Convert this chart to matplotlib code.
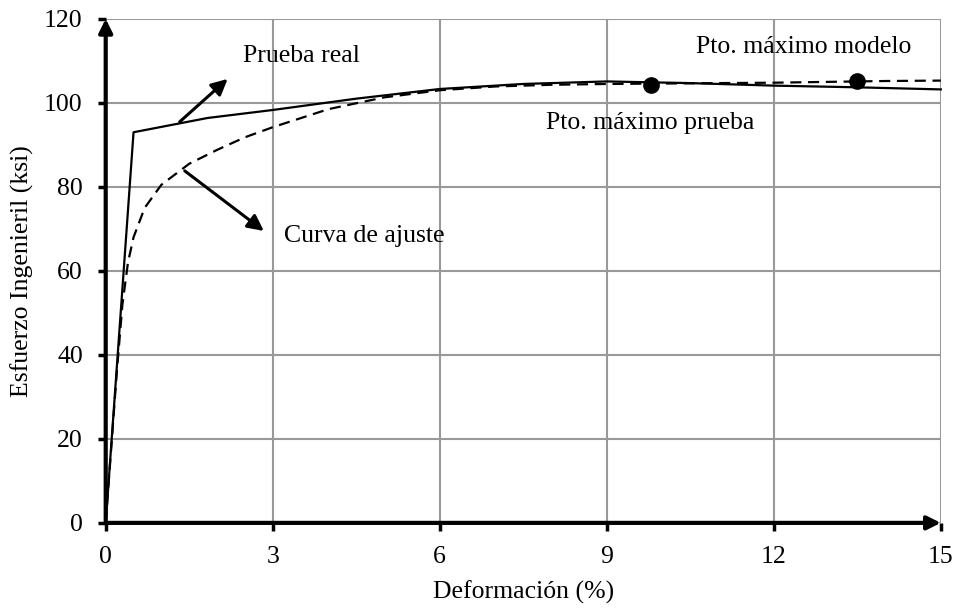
import matplotlib
matplotlib.use("Agg")
import matplotlib.pyplot as plt

plt.rcParams['font.family'] = ['Liberation Serif', 'DejaVu Serif']

# Curva de la prueba real (deformación %, esfuerzo ksi)
prueba_x = [0.0, 0.5, 1.83, 3.0, 4.5, 6.0, 7.5, 9.0, 10.5, 12.0, 13.5, 15.0]
prueba_y = [0.0, 93.0, 96.4, 98.3, 101.0, 103.3, 104.5, 105.1, 104.7, 104.1, 103.7, 103.2]

# Curva de ajuste del modelo
ajuste_x = [0.0, 0.1, 0.2, 0.3, 0.4, 0.5, 0.7, 1.0, 1.5, 2.0, 2.5, 3.0, 4.0,
            5.0, 6.0, 7.0, 8.0, 9.0, 10.0, 11.0, 12.0, 13.0, 14.0, 15.0]
ajuste_y = [0.0, 18.0, 36.0, 52.0, 62.0, 68.0, 75.0, 80.5, 85.5, 88.8, 91.8, 94.2, 98.5,
            101.3, 103.0, 103.9, 104.3, 104.5, 104.6, 104.7, 104.8, 105.0, 105.2, 105.3]

# Puntos máximos
max_prueba = (9.8, 104.3)
max_modelo = (13.5, 105.3)

xticks = [0, 3, 6, 9, 12, 15]
yticks = [0, 20, 40, 60, 80, 100, 120]

fig = plt.figure(figsize=(9.61, 6.08), dpi=100)
ax = fig.add_axes([0.110, 0.140, 0.869, 0.829])

ax.set_xlim(0, 15)
ax.set_ylim(0, 120)
ax.set_xticks(xticks)
ax.set_yticks(yticks)
ax.grid(True, color='#999999', linewidth=1.5)
ax.set_axisbelow(True)
for s in ax.spines.values():
    s.set_visible(False)
ax.tick_params(direction='out', length=5.5, width=2.5, labelsize=18.5, pad=11)

# ejes con flecha
ax.annotate('', xy=(0, 120), xytext=(0, 0), annotation_clip=False,
            arrowprops=dict(arrowstyle='-|>', lw=3, color='black',
                            mutation_scale=20, shrinkA=0, shrinkB=0))
ax.annotate('', xy=(15, 0), xytext=(0, 0), annotation_clip=False,
            arrowprops=dict(arrowstyle='-|>', lw=3, color='black',
                            mutation_scale=20, shrinkA=0, shrinkB=0))

ax.plot(prueba_x, prueba_y, color='black', lw=1.6, clip_on=False, zorder=3)
ax.plot(ajuste_x, ajuste_y, color='black', lw=1.6, dashes=(5, 3), clip_on=False, zorder=3)
ax.plot(*max_prueba, 'o', color='black', ms=11, zorder=4)
ax.plot(*max_modelo, 'o', color='black', ms=11, zorder=4)

arrow_kw = dict(arrowstyle='-|>', lw=2.2, color='black', mutation_scale=24,
                shrinkA=0, shrinkB=0)
ax.annotate('', xy=(2.19, 105.7), xytext=(1.33, 95.5), arrowprops=arrow_kw)
ax.annotate('', xy=(2.84, 69.5), xytext=(1.42, 83.8), arrowprops=arrow_kw)

ax.text(2.46, 111.2, 'Prueba real', fontsize=18.5, va='center', ha='left')
ax.text(3.21, 68.3, 'Curva de ajuste', fontsize=18.5, va='center', ha='left')
ax.text(10.6, 113.3, 'Pto. máximo modelo', fontsize=18.5, va='center', ha='left')
ax.text(7.9, 95.2, 'Pto. máximo prueba', fontsize=18.5, va='center', ha='left')

ax.set_xlabel('Deformación (%)', fontsize=18.5, labelpad=9)
ax.set_ylabel('Esfuerzo Ingenieril (ksi)', fontsize=18.5, labelpad=7)

fig.savefig('out.png', dpi=100)
